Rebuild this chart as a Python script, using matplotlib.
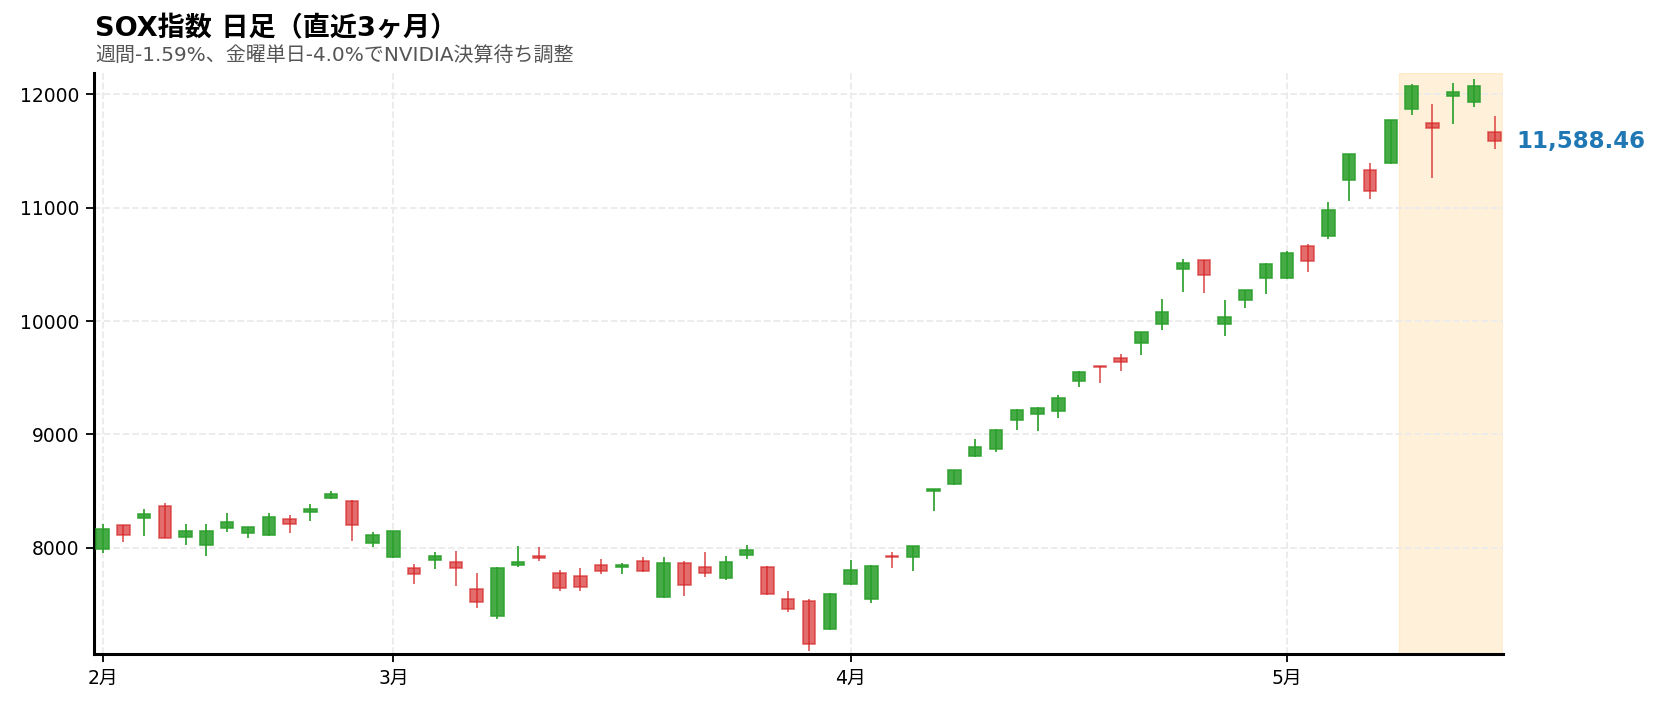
import matplotlib
matplotlib.use("Agg")
import matplotlib.pyplot as plt
from matplotlib.colors import to_rgba
import numpy as np
import pandas as pd

# DejaVu for latin/digits (wide like the original), Noto CJK for Japanese
plt.rcParams['font.family'] = ['DejaVu Sans', 'Noto Sans CJK JP']

# trading days (NYSE): 2/16 Presidents Day, 4/3 Good Friday closed
dates = pd.bdate_range('2026-02-09', '2026-05-15', freq='C',
                       holidays=['2026-02-16', '2026-04-03'])

opens = [7985, 8197, 8259, 8366, 8091, 8021, 8171, 8127, 8109, 8251,
         8313, 8436, 8410, 8041, 7914, 7817, 7891, 7876, 7631, 7392,
         7844, 7926, 7779, 7752, 7849, 7829, 7885, 7560, 7867, 7832,
         7728, 7932, 7832, 7549, 7525, 7277, 7675, 7543, 7925, 7917,
         8498, 8557, 8805, 8867, 9124, 9177, 9203, 9472, 9602, 9672,
         9808, 9973, 10455, 10535, 9970, 10189, 10384, 10381, 10664, 10755,
         11242, 11336, 11398, 11870, 11744, 11985, 11938, 11673]
highs = [8206, 8200, 8342, 8395, 8206, 8206, 8304, 8180, 8304, 8286,
         8383, 8498, 8419, 8136, 8150, 7852, 7959, 7970, 7776, 7829,
         8015, 8006, 7799, 7820, 7900, 7864, 7917, 7917, 7879, 7962,
         7926, 8021, 7835, 7616, 7546, 7596, 7888, 7845, 7962, 8015,
         8519, 8687, 8955, 9044, 9220, 9240, 9345, 9556, 9603, 9708,
         9902, 10195, 10549, 10537, 10183, 10276, 10513, 10620, 10682, 11053,
         11478, 11398, 11778, 12097, 11915, 12100, 12136, 11808]
lows = [7956, 8053, 8106, 8080, 8018, 7929, 8141, 8080, 8105, 8124,
        8230, 8428, 8062, 8009, 7910, 7681, 7814, 7664, 7469, 7372,
        7832, 7885, 7619, 7619, 7770, 7770, 7788, 7558, 7575, 7743,
        7717, 7903, 7585, 7430, 7088, 7275, 7672, 7513, 7823, 7796,
        8324, 8548, 8796, 8841, 9041, 9032, 9140, 9413, 9457, 9563,
        9696, 9917, 10258, 10250, 9870, 10112, 10236, 10372, 10431, 10726,
        11059, 11077, 11387, 11820, 11263, 11741, 11891, 11519]
closes = [8168, 8109, 8295, 8082, 8144, 8144, 8224, 8177, 8268, 8206,
          8339, 8472, 8197, 8109, 8144, 7764, 7923, 7817, 7516, 7817,
          7870, 7911, 7640, 7649, 7790, 7844, 7790, 7867, 7669, 7773,
          7876, 7976, 7587, 7454, 7144, 7593, 7805, 7841, 7920, 8012,
          8513, 8684, 8888, 9041, 9218, 9235, 9324, 9554, 9594, 9637,
          9900, 10080, 10515, 10404, 10036, 10274, 10505, 10599, 10531, 10979,
          11475, 11151, 11776, 12077, 11708, 12018, 12071, 11588.46]

title = 'SOX指数 日足（直近3ヶ月）'
subtitle = '週間-1.59%、金曜単日-4.0%でNVIDIA決算待ち調整'

o = np.array(opens, dtype=float)
h = np.array(highs, dtype=float)
l = np.array(lows, dtype=float)
c = np.array(closes, dtype=float)
x = np.arange(len(c))

up_col = to_rgba('#2ca02c', 0.88)
down_col = to_rgba('#d62728', 0.68)
cols = [up_col if cc >= oo else down_col for oo, cc in zip(o, c)]

fig = plt.figure(figsize=(16.6, 7.03), dpi=100)
ax = fig.add_axes([0.0568, 0.0697, 0.8486, 0.8265])

# last week highlight
ax.axvspan(len(c) - 5.6, len(c) - 0.6, color='orange', alpha=0.15, zorder=0)

ax.vlines(x, l, h, colors=cols, linewidth=1.4, zorder=2)
ax.bar(x, np.maximum(np.abs(c - o), 4), bottom=np.minimum(o, c), width=0.6,
       color=cols, edgecolor=cols, linewidth=1.2, zorder=3)

ax.set_xlim(-0.4, len(c) - 0.6)
ax.set_ylim(7060, 12190)

# month ticks at first trading day of each month
months = dates.month
tick_idx = [0] + [i for i in range(1, len(dates)) if months[i] != months[i - 1]]
ax.set_xticks(tick_idx)
ax.set_xticklabels([f'{dates[i].month}月' for i in tick_idx])
ax.set_yticks([8000, 9000, 10000, 11000, 12000])

ax.grid(True, linestyle='--', color='#ebebeb', linewidth=1.3, zorder=0)
ax.set_axisbelow(True)
for s in ['top', 'right']:
    ax.spines[s].set_visible(False)
for s in ['left', 'bottom']:
    ax.spines[s].set_linewidth(2.2)
    ax.spines[s].set_color('black')
ax.tick_params(labelsize=13.5, length=6, width=1.3, colors='black', pad=5)

ax.annotate(f'{c[-1]:,.2f}', xy=(1, c[-1]), xycoords=('axes fraction', 'data'),
            xytext=(13, 0), textcoords='offset pixels', ha='left', va='center',
            fontsize=16.5, fontweight='bold', color='#1f77b4', annotation_clip=False)

fig.text(0.0572, 1 - 36 / 703, title, fontsize=19.5, fontweight='bold',
         va='baseline', ha='left')
fig.text(0.0572, 1 - 61 / 703, subtitle, fontsize=14.4, color='#555555',
         va='baseline', ha='left')

fig.savefig('out.png', dpi=100)
